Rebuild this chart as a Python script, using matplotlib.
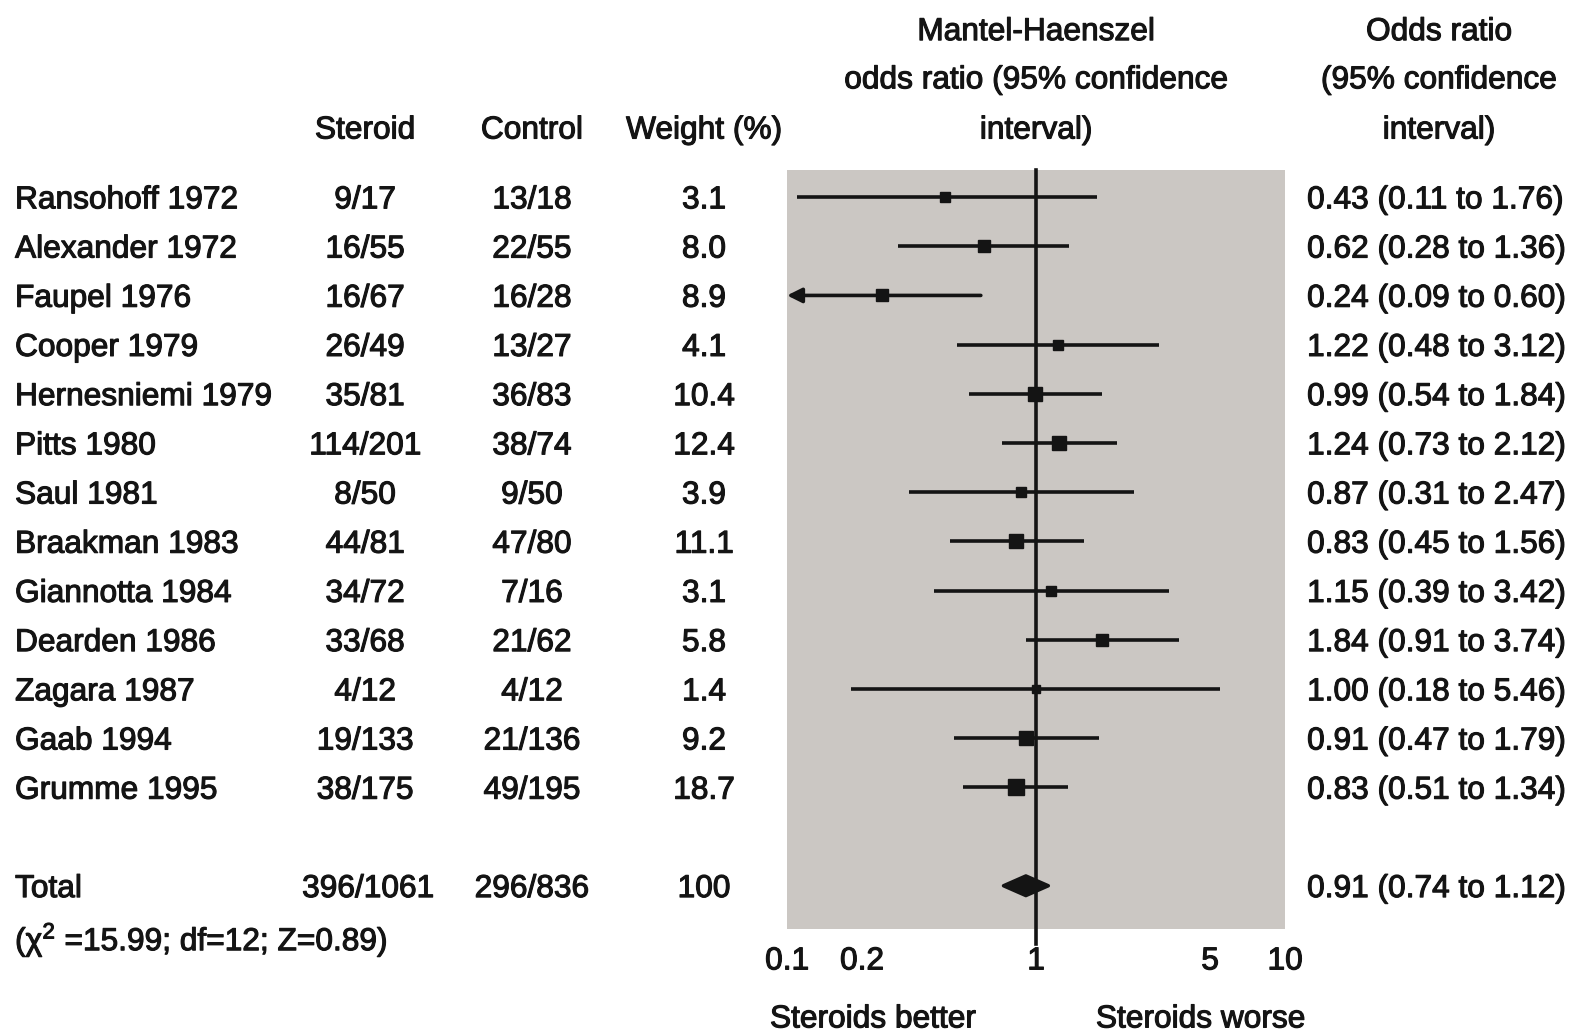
import numpy as np
import matplotlib
matplotlib.use("Agg")
import matplotlib.pyplot as plt
import matplotlib.patheffects as pe
from matplotlib.patches import Polygon
from matplotlib.transforms import blended_transform_factory

# ── data ──
studies = ["Ransohoff 1972", "Alexander 1972", "Faupel 1976", "Cooper 1979",
           "Hernesniemi 1979", "Pitts 1980", "Saul 1981", "Braakman 1983",
           "Giannotta 1984", "Dearden 1986", "Zagara 1987", "Gaab 1994", "Grumme 1995"]
steroid = ["9/17", "16/55", "16/67", "26/49", "35/81", "114/201", "8/50", "44/81",
           "34/72", "33/68", "4/12", "19/133", "38/175"]
control = ["13/18", "22/55", "16/28", "13/27", "36/83", "38/74", "9/50", "47/80",
           "7/16", "21/62", "4/12", "21/136", "49/195"]
weight = [3.1, 8.0, 8.9, 4.1, 10.4, 12.4, 3.9, 11.1, 3.1, 5.8, 1.4, 9.2, 18.7]
odds = [0.43, 0.62, 0.24, 1.22, 0.99, 1.24, 0.87, 0.83, 1.15, 1.84, 1.00, 0.91, 0.83]
ci_lo = [0.11, 0.28, 0.09, 0.48, 0.54, 0.73, 0.31, 0.45, 0.39, 0.91, 0.18, 0.47, 0.51]
ci_hi = [1.76, 1.36, 0.60, 3.12, 1.84, 2.12, 2.47, 1.56, 3.42, 3.74, 5.46, 1.79, 1.34]

total_label = "Total"
total_steroid = "396/1061"
total_control = "296/836"
total_weight = "100"
total_or, total_lo, total_hi = 0.91, 0.74, 1.12
heterogeneity = "(χ$^2$ =15.99; df=12; Z=0.89)"

xticks = [0.1, 0.2, 1, 5, 10]
xticklabels = ["0.1", "0.2", "1", "5", "10"]

# ── style ──
FONT = ["Liberation Sans", "DejaVu Sans"]
FS = 22.8
INK = "#141414"
BOX = "#cbc7c3"
LW = 2.6
plt.rcParams.update({
    "font.family": FONT, "font.size": FS, "text.color": INK,
    "mathtext.fontset": "custom", "mathtext.rm": "Liberation Sans",
    "mathtext.it": "Liberation Sans", "mathtext.default": "regular",
})
HEAVY = [pe.withStroke(linewidth=0.8, foreground=INK)]

fig = plt.figure(figsize=(15.83, 10.34), dpi=100)
ax = fig.add_axes([0.4972, 0.1015, 0.3146, 0.7341])
ax.set_facecolor(BOX)
ax.set_xscale("log")
ax.set_xlim(0.1, 10)
ax.set_ylim(14.88, -0.55)
for s in ax.spines.values():
    s.set_visible(False)
ax.set_yticks([])
ax.set_xticks(xticks)
ax.set_xticklabels(xticklabels)
ax.minorticks_off()
ax.tick_params(axis="x", length=0, pad=12.5, labelsize=FS, labelcolor=INK)
for t in ax.get_xticklabels():
    t.set_path_effects(HEAVY)

rows = np.arange(len(studies))
total_row = len(studies) + 1

# ── study lines and squares ──
for y, o, lo, hi, w in zip(rows, odds, ci_lo, ci_hi, weight):
    ms = (4 + 3.0 * np.sqrt(w)) * 0.72
    if lo < 0.1:
        ax.annotate("", xy=(0.1, y), xytext=(hi, y),
                    arrowprops=dict(arrowstyle="-|>", color=INK, lw=LW,
                                    mutation_scale=22, shrinkA=0, shrinkB=0))
    else:
        ax.plot([lo, hi], [y, y], color=INK, lw=LW, solid_capstyle="butt", zorder=3)
    ax.plot(o, y, marker="s", ms=ms, color=INK, zorder=4)

# ── pooled diamond ──
h = 0.2
ax.add_patch(Polygon([(total_lo, total_row), (total_or, total_row - h),
                      (total_hi, total_row), (total_or, total_row + h)],
                     closed=True, facecolor=INK, edgecolor=INK, lw=2.5,
                     joinstyle="round", zorder=4))

ax.axvline(1, ymin=-0.02, ymax=1, color=INK, lw=LW, clip_on=False, zorder=2)

# ── text columns ──
tr = blended_transform_factory(fig.transFigure, ax.transData)
B = 0.23  # baseline offset below row centre
X_NAME, X_STER, X_CTRL, X_W, X_OR, X_ORH = 0.0095, 0.2306, 0.336, 0.4447, 0.8257, 0.909


def put(x, y, s, ha="center", transform=tr):
    ax.text(x, y, s, transform=transform, ha=ha, va="baseline", path_effects=HEAVY)


for y, name, s, c, w, o, lo, hi in zip(rows, studies, steroid, control, weight,
                                       odds, ci_lo, ci_hi):
    yb = y + B
    put(X_NAME, yb, name, ha="left")
    put(X_STER, yb, s)
    put(X_CTRL, yb, c)
    put(X_W, yb, f"{w:.1f}")
    put(X_OR, yb, f"{o:.2f} ({lo:.2f} to {hi:.2f})", ha="left")

yb = total_row + B
put(X_NAME, yb, total_label, ha="left")
put(0.2325, yb, total_steroid)
put(X_CTRL, yb, total_control)
put(X_W, yb, total_weight)
put(X_OR, yb, f"{total_or:.2f} ({total_lo:.2f} to {total_hi:.2f})", ha="left")
put(X_NAME, 15.31, heterogeneity, ha="left")

# ── headers ──
for x, lab in [(X_STER, "Steroid"), (X_CTRL, "Control"), (X_W, "Weight (%)")]:
    put(x, -1.19, lab)
for y, lab in zip([-3.19, -2.21, -1.19],
                  ["Mantel-Haenszel", "odds ratio (95% confidence", "interval)"]):
    put(1, y, lab, transform=ax.transData)
for y, lab in zip([-3.19, -2.21, -1.19],
                  ["Odds ratio", "(95% confidence", "interval)"]):
    put(X_ORH, y, lab)

# ── direction labels ──
put(0.4864, 16.88, "Steroids better", ha="left")
put(0.8244, 16.88, "Steroids worse", ha="right")

fig.savefig("out.png", dpi=100, facecolor="white")
